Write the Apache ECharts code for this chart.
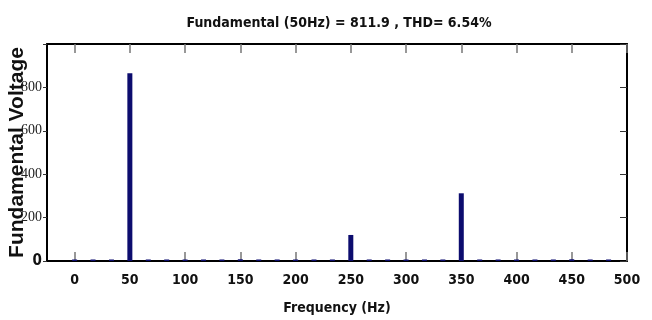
<!DOCTYPE html>
<html>
<head>
<meta charset="utf-8">
<script src="https://cdn.jsdelivr.net/npm/echarts@6/dist/echarts.min.js"></script>
<style>
html,body{margin:0;padding:0;background:#fff;}
#chart{width:652px;height:320px;}
</style>
</head>
<body>
<div id="chart"></div>
<script>
// Harmonic frequencies (Hz)
var frequencies = [0, 16.67, 33.33, 50, 66.67, 83.33, 100, 116.67, 133.33, 150,
  166.67, 183.33, 200, 216.67, 233.33, 250, 266.67, 283.33, 300, 316.67,
  333.33, 350, 366.67, 383.33, 400, 416.67, 433.33, 450, 466.67, 483.33];
// Magnitudes (V)
var magnitudes = [7, 7, 7, 865, 7, 7, 7, 7, 7, 8,
  7, 7, 7, 7, 7, 120, 7, 7, 7, 7,
  7, 312, 7, 7, 7, 7, 7, 8, 7, 7];
var xTickValues = [0, 50, 100, 150, 200, 250, 300, 350, 400, 450, 500];
var titleText = 'Fundamental (50Hz) = 811.9 , THD= 6.54%';
var xName = 'Frequency (Hz)';
var yName = 'Fundamental Voltage';

var narrow = "'Liberation Sans Narrow', 'DejaVu Sans Condensed', 'Arial Narrow', sans-serif";

var data = frequencies.map(function (f, i) { return [f, magnitudes[i]]; });

var chart = echarts.init(document.getElementById('chart'), null, {renderer: 'canvas'});
chart.setOption({
  animation: false,
  backgroundColor: '#fff',
  title: {
    text: titleText,
    left: 334,
    top: 11,
    textAlign: 'center',
    textStyle: {fontFamily: narrow, fontWeight: 'bold', fontSize: 14, color: '#111'}
  },
  grid: {left: 47, right: 25, top: 44, bottom: 59, containLabel: false, outerBoundsMode: 'none'},
  xAxis: [{
    type: 'value',
    min: -25, max: 500,
    position: 'bottom',
    name: xName,
    nameLocation: 'middle',
    nameGap: 40,
    nameMoveOverlap: false,
    nameTextStyle: {fontFamily: narrow, fontWeight: 'bold', fontSize: 14, color: '#111'},
    axisLine: {show: true, onZero: false, lineStyle: {color: '#000', width: 2}},
    axisTick: {show: true, inside: true, length: 9, customValues: xTickValues, lineStyle: {color: '#777', width: 1.5}},
    axisLabel: {show: true, customValues: xTickValues, margin: 12, fontFamily: narrow, fontWeight: 'bold', fontSize: 14, color: '#111'},
    splitLine: {show: false}
  }, {
    type: 'value',
    min: -25, max: 500,
    position: 'top',
    axisLine: {show: true, onZero: false, lineStyle: {color: '#000', width: 2}},
    axisTick: {show: true, inside: true, length: 9, customValues: xTickValues, lineStyle: {color: '#777', width: 1.5}},
    axisLabel: {show: false},
    splitLine: {show: false}
  }],
  yAxis: [{
    type: 'value',
    min: 0, max: 1000, interval: 200,
    position: 'left',
    z: 5,
    axisLine: {show: true, onZero: false, lineStyle: {color: '#000', width: 2}},
    axisTick: {show: true, inside: false, length: 4, lineStyle: {color: '#333', width: 1}},
    axisLabel: {
      show: true, margin: 5,
      formatter: function (v) {
        if (v === 1000) return '';
        if (v === 0) return '{z|0}';
        return '{s|' + v + '}';
      },
      rich: {
        z: {fontFamily: narrow, fontWeight: 'bold', fontSize: 15, color: '#111'},
        s: {fontFamily: "'Liberation Serif', 'Times New Roman', serif", fontSize: 14, color: '#222'}
      }
    },
    splitLine: {show: false}
  }, {
    type: 'value',
    min: 0, max: 1000, interval: 200,
    position: 'right',
    axisLine: {show: true, onZero: false, lineStyle: {color: '#000', width: 2}},
    axisTick: {show: true, inside: true, length: 7, lineStyle: {color: '#333', width: 1}},
    axisLabel: {show: false},
    splitLine: {show: false}
  }, {
    type: 'value',
    min: 0, max: 1000, interval: 200,
    position: 'left',
    z: 1,
    name: yName,
    nameLocation: 'middle',
    nameGap: 19,
    nameMoveOverlap: false,
    nameTextStyle: {fontFamily: "'Liberation Sans', Arial, sans-serif", fontWeight: 'bold', fontSize: 21, color: '#111'},
    axisLine: {show: false},
    axisTick: {show: false},
    axisLabel: {show: false},
    splitLine: {show: false}
  }],
  series: [{
    type: 'bar',
    xAxisIndex: 0,
    yAxisIndex: 0,
    data: data,
    barWidth: 5,
    itemStyle: {color: '#0c0c6e'}
  }]
});
</script>
</body>
</html>
